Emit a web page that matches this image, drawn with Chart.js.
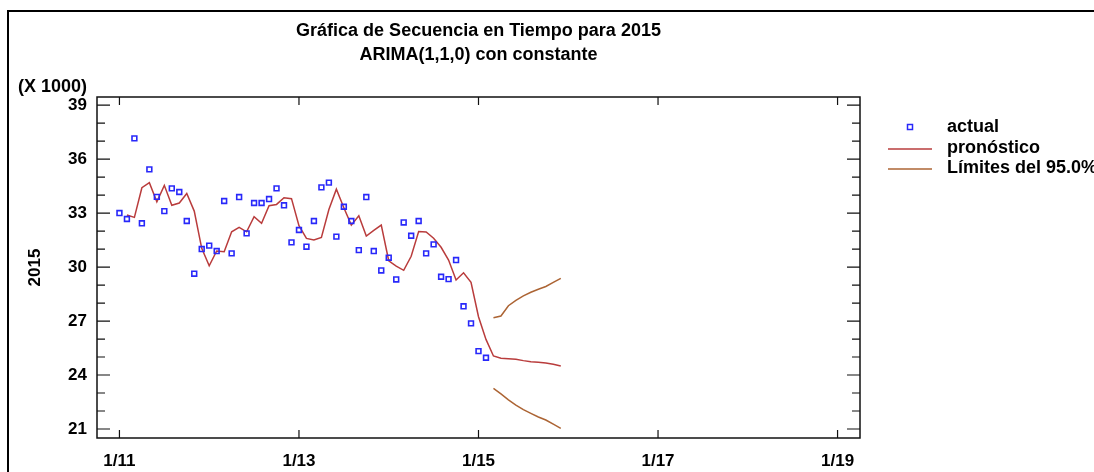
<!DOCTYPE html>
<html>
<head>
<meta charset="utf-8">
<script src="https://cdn.jsdelivr.net/npm/chart.js@4/dist/chart.umd.min.js"></script>
<style>
  html, body { margin: 0; padding: 0; background: #fff; }
  #wrap { position: relative; width: 1094px; height: 472px; }
</style>
</head>
<body>
<div id="wrap"><canvas id="visualizer"></canvas></div>
<script>
// months counted from 1/2011 (index 0 = January 2011)
const firstActualMonth = 0;
const firstFittedMonth = 1;
const firstForecastMonth = 50;

// 2015 series, in thousands
const actualValues = [33.0, 32.67, 37.15, 32.43, 35.43, 33.9, 33.11, 34.37, 34.17, 32.56, 29.63, 31.0,
  31.19, 30.89, 33.67, 30.76, 33.89, 31.87, 33.56, 33.56, 33.78, 34.37, 33.43, 31.37,
  32.06, 31.13, 32.56, 34.43, 34.69, 31.69, 33.35, 32.56, 30.94, 33.89, 30.89, 29.81,
  30.52, 29.31, 32.48, 31.74, 32.56, 30.76, 31.26, 29.46, 29.33, 30.39, 27.82, 26.87,
  25.33, 24.96];

// one-step fitted values (Feb 2011 .. Feb 2015) followed by the forecasts (Mar .. Dec 2015)
const forecastValues = [32.89, 32.76, 34.41, 34.69, 33.63, 34.54, 33.43, 33.56, 34.09, 33.11, 31.04,
  30.07, 30.89, 30.85, 31.96, 32.2, 31.96, 32.8, 32.43, 33.41, 33.48, 33.85, 33.8,
  32.3, 31.59, 31.5, 31.64, 33.2, 34.33, 33.3, 32.33, 32.85, 31.72, 32.04, 32.33,
  30.35, 30.05, 29.82, 30.6, 31.98, 31.95, 31.6, 31.1, 30.39, 29.28, 29.68, 29.15,
  27.24, 25.98,
  25.06, 24.93, 24.91, 24.87, 24.8, 24.74, 24.71, 24.67, 24.6, 24.5];

const upperLimits = [27.18, 27.28, 27.85, 28.15, 28.4, 28.6, 28.77, 28.92, 29.15, 29.37];
const lowerLimits = [23.26, 22.95, 22.62, 22.33, 22.08, 21.87, 21.67, 21.5, 21.27, 21.04];

const xTickMonths = [0, 24, 48, 72, 96];
const xTickLabels = ['1/11', '1/13', '1/15', '1/17', '1/19'];
const yTickValues = [21, 24, 27, 30, 33, 36, 39];

const legendLabels = ['actual', 'pronóstico', 'Límites del 95.0%'];

const FONT = '"Liberation Sans", Arial, sans-serif';

function toPoints(values, start) {
    return values.map((v, i) => ({ x: start + i, y: v }));
}

const blue = 'rgb(40,40,250)';
const red = 'rgb(185,60,60)';
const brown = 'rgb(172,100,52)';

// frame, titles, inward ticks and legend
const decor = {
    id: 'decor',
    beforeDraw(chart) {
        const ctx = chart.ctx;
        ctx.save();
        ctx.strokeStyle = '#000';
        ctx.lineWidth = 2;
        ctx.beginPath();
        ctx.moveTo(8, chart.height);
        ctx.lineTo(8, 11);
        ctx.lineTo(chart.width, 11);
        ctx.stroke();
        ctx.restore();
    },
    afterDraw(chart) {
        const ctx = chart.ctx;
        const a = chart.chartArea;
        const xs = chart.scales.x;
        const ys = chart.scales.y;
        ctx.save();

        // titles
        ctx.fillStyle = '#000';
        ctx.font = 'bold 18px ' + FONT;
        ctx.textAlign = 'center';
        ctx.textBaseline = 'middle';
        const cx = (a.left + a.right) / 2;
        ctx.fillText('Gráfica de Secuencia en Tiempo para 2015', cx, 31);
        ctx.fillText('ARIMA(1,1,0) con constante', cx, 55);
        ctx.textAlign = 'left';
        ctx.fillText('(X 1000)', 18, 87);

        // plot box
        ctx.strokeStyle = '#111';
        ctx.lineWidth = 1.5;
        ctx.strokeRect(a.left, a.top, a.right - a.left, a.bottom - a.top);

        // y ticks, major every 3, minor every 1
        ctx.lineWidth = 1.2;
        ctx.beginPath();
        for (let v = yTickValues[0]; v <= yTickValues[yTickValues.length - 1]; v++) {
            const y = ys.getPixelForValue(v);
            const len = yTickValues.includes(v) ? 13 : 8;
            ctx.moveTo(a.left, y); ctx.lineTo(a.left + len, y);
            ctx.moveTo(a.right, y); ctx.lineTo(a.right - len, y);
        }
        // x ticks
        xTickMonths.forEach(m => {
            const x = xs.getPixelForValue(m);
            ctx.moveTo(x, a.bottom); ctx.lineTo(x, a.bottom - 8);
            ctx.moveTo(x, a.top); ctx.lineTo(x, a.top + 8);
        });
        ctx.stroke();

        // legend
        const rows = [127, 148, 168];
        ctx.font = 'bold 18px ' + FONT;
        ctx.textAlign = 'left';
        ctx.textBaseline = 'middle';
        chart.data.datasets.forEach((ds, i) => {
            const y = rows[i];
            if (ds.showLine === false) {
                ctx.strokeStyle = ds.pointBorderColor;
                ctx.lineWidth = 1.5;
                ctx.strokeRect(907.5, y - 2.5, 5, 5);
            } else {
                ctx.strokeStyle = ds.borderColor;
                ctx.lineWidth = 1.5;
                ctx.beginPath();
                ctx.moveTo(888, y + 1); ctx.lineTo(932, y + 1);
                ctx.stroke();
            }
            ctx.fillStyle = '#000';
            ctx.fillText(ds.label, 947, y);
        });
        ctx.restore();
    }
};

new Chart(document.getElementById('visualizer').getContext('2d'), {
    type: 'line',
    data: {
        datasets: [{
            label: legendLabels[0],
            data: toPoints(actualValues, firstActualMonth),
            showLine: false,
            pointStyle: 'rect',
            pointRadius: 3.4,
            pointBorderWidth: 1.6,
            pointBorderColor: blue,
            pointBackgroundColor: 'rgba(0,0,0,0)',
            borderColor: blue
        }, {
            label: legendLabels[1],
            data: toPoints(forecastValues, firstFittedMonth),
            borderColor: red,
            borderWidth: 1.5,
            pointRadius: 0,
            tension: 0
        }, {
            label: legendLabels[2],
            data: toPoints(upperLimits, firstForecastMonth),
            borderColor: brown,
            borderWidth: 1.5,
            pointRadius: 0,
            tension: 0
        }, {
            label: legendLabels[2],
            data: toPoints(lowerLimits, firstForecastMonth),
            borderColor: brown,
            borderWidth: 1.5,
            pointRadius: 0,
            tension: 0
        }]
    },
    options: {
        responsive: true,
        maintainAspectRatio: false,
        animation: false,
        layout: { padding: { left: 0, top: 97, right: 234, bottom: 0 } },
        plugins: {
            legend: { display: false },
            tooltip: { enabled: false }
        },
        scales: {
            x: {
                type: 'linear',
                min: -3,
                max: 99,
                grid: { display: false, drawTicks: false },
                border: { display: false },
                afterBuildTicks: s => { s.ticks = xTickMonths.map(v => ({ value: v })); },
                afterFit: s => { s.height = 34; },
                ticks: {
                    padding: 13,
                    color: '#000',
                    font: { family: FONT, size: 17, weight: 'bold' },
                    callback: v => xTickLabels[xTickMonths.indexOf(v)]
                }
            },
            y: {
                min: 20.5,
                max: 39.45,
                grid: { display: false, drawTicks: false },
                border: { display: false },
                afterBuildTicks: s => { s.ticks = yTickValues.map(v => ({ value: v })); },
                afterFit: s => { s.width = 97; },
                ticks: {
                    padding: 10,
                    color: '#000',
                    font: { family: FONT, size: 17, weight: 'bold' },
                    callback: v => String(v)
                },
                title: {
                    display: true,
                    text: '2015',
                    color: '#000',
                    padding: { top: 25, bottom: 0 },
                    font: { family: FONT, size: 17, weight: 'bold' }
                }
            }
        }
    },
    plugins: [decor]
});
</script>
</body>
</html>
